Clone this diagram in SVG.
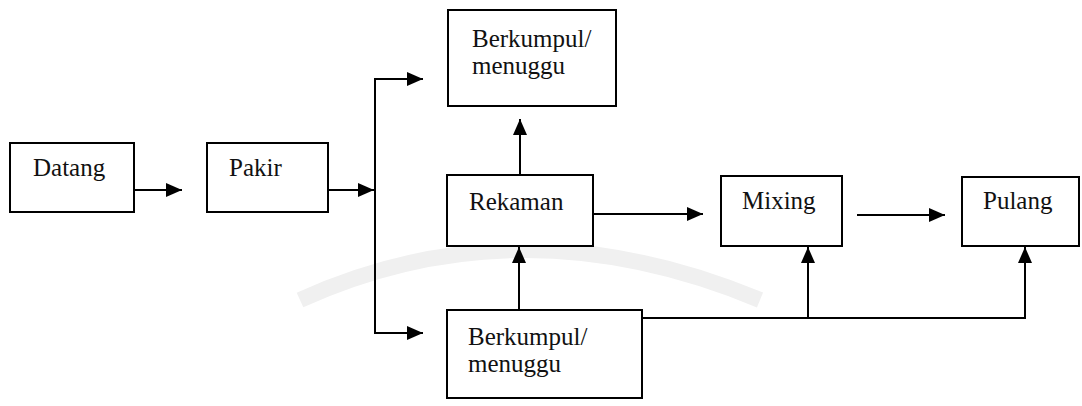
<svg xmlns="http://www.w3.org/2000/svg" width="1082" height="406" viewBox="0 0 1082 406">
<defs>
<marker id="ah" viewBox="0 0 16 14" refX="16" refY="7" markerWidth="16" markerHeight="14" markerUnits="userSpaceOnUse" orient="auto">
<path d="M0,0 L16,7 L0,14 Z" fill="#000"/>
</marker>
<style>
.box{fill:#fff;stroke:#000;stroke-width:2}
.lbl{font-family:"Liberation Serif","Times New Roman",serif;font-size:25px;fill:#111}
.c{fill:none;stroke:#000;stroke-width:2}
</style>
</defs>
<rect width="1082" height="406" fill="#fff"/>
<g id="watermark">
<path d="M300,300 Q520,200 760,300" fill="none" stroke="#f0f0f0" stroke-width="16"/>
</g>
<g id="connectors">
<line class="c" x1="134" y1="190" x2="182" y2="190" marker-end="url(#ah)"/>
<line class="c" x1="328" y1="190" x2="374" y2="190" marker-end="url(#ah)"/>
<polyline class="c" points="423,79 375,79 375,333 423,333"/>
<line class="c" x1="375" y1="79" x2="423" y2="79" marker-end="url(#ah)"/>
<line class="c" x1="375" y1="333" x2="423" y2="333" marker-end="url(#ah)"/>
<line class="c" x1="520" y1="175" x2="520" y2="119" marker-end="url(#ah)"/>
<line class="c" x1="519" y1="310" x2="519" y2="247" marker-end="url(#ah)"/>
<line class="c" x1="593" y1="214" x2="703" y2="214" marker-end="url(#ah)"/>
<line class="c" x1="857" y1="215" x2="945" y2="215" marker-end="url(#ah)"/>
<polyline class="c" points="642,318 1025,318 1025,248"/>
<line class="c" x1="1025" y1="318" x2="1025" y2="247" marker-end="url(#ah)"/>
<line class="c" x1="808" y1="318" x2="808" y2="247" marker-end="url(#ah)"/>
</g>
<g id="datang">
<rect class="box" x="10" y="143" width="124" height="69"/>
<text class="lbl" x="33" y="176">Datang</text>
</g>
<g id="pakir">
<rect class="box" x="207" y="143" width="121" height="69"/>
<text class="lbl" x="229" y="176">Pakir</text>
</g>
<g id="berkumpul-top">
<rect class="box" x="448" y="10" width="168" height="96"/>
<text class="lbl" x="472" y="47">Berkumpul/</text>
<text class="lbl" x="472" y="74">menuggu</text>
</g>
<g id="rekaman">
<rect class="box" x="447" y="175" width="146" height="71"/>
<text class="lbl" x="469" y="210">Rekaman</text>
</g>
<g id="mixing">
<rect class="box" x="721" y="176" width="121" height="70"/>
<text class="lbl" x="742" y="209">Mixing</text>
</g>
<g id="pulang">
<rect class="box" x="962" y="177" width="117" height="69"/>
<text class="lbl" x="983" y="209">Pulang</text>
</g>
<g id="berkumpul-bottom">
<rect class="box" x="447" y="310" width="195" height="88"/>
<text class="lbl" x="468" y="345">Berkumpul/</text>
<text class="lbl" x="468" y="372">menuggu</text>
</g>
</svg>
